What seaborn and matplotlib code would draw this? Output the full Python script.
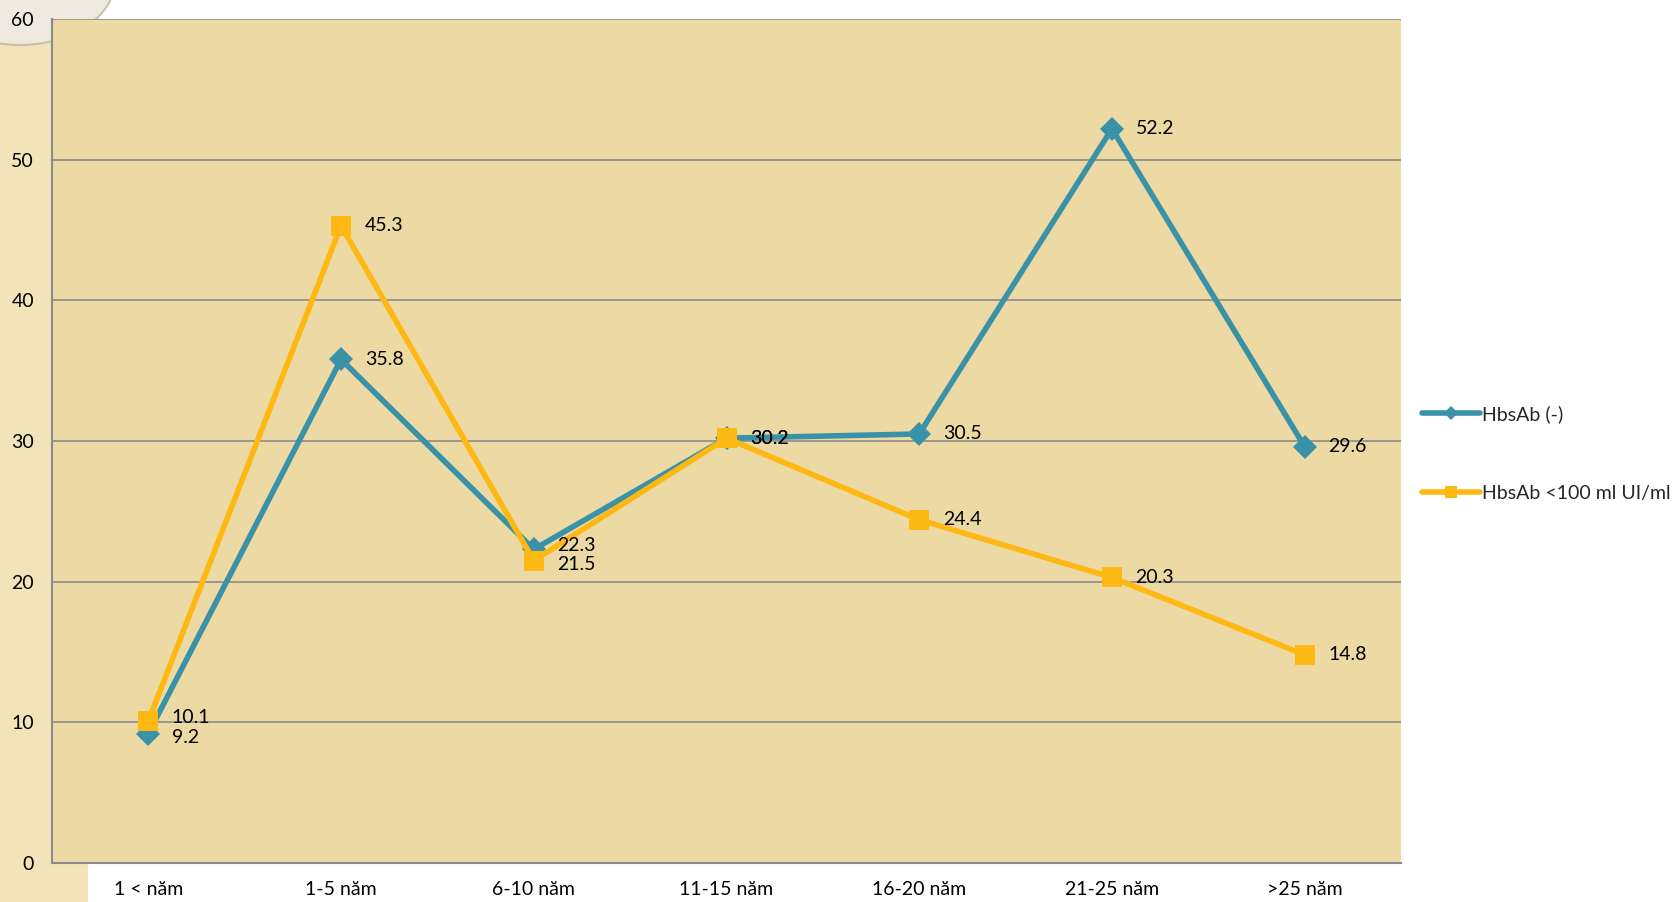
import pandas as pd
import seaborn as sns
import matplotlib.pyplot as plt
from matplotlib.patches import Rectangle, Ellipse

categories = ["1 < năm", "1-5 năm", "6-10 năm", "11-15 năm", "16-20 năm", "21-25 năm", ">25 năm"]
hbsab_neg = [9.2, 35.8, 22.3, 30.2, 30.5, 52.2, 29.6]
hbsab_low = [10.1, 45.3, 21.5, 30.2, 24.4, 20.3, 14.8]
series_names = ["HbsAb (-)", "HbsAb <100 ml UI/ml"]

df = pd.DataFrame({
    "Nhóm": categories * 2,
    "Giá trị": hbsab_neg + hbsab_low,
    "Series": [series_names[0]] * len(categories) + [series_names[1]] * len(categories),
})
df["x"] = list(range(len(categories))) * 2

sns.set_theme(style="white")
plt.rcParams["font.family"] = ["Lato", "DejaVu Sans"]

fig = plt.figure(figsize=(16.75, 9.02), dpi=100)
fig.patch.set_facecolor("white")

# decorative left strip and corner badge (behind the axes)
fig.patches.append(Rectangle((0, 0), 88 / 1675, 1, transform=fig.transFigure,
                             facecolor="#F3E3B8", edgecolor="none", zorder=-2))
fig.patches.append(Ellipse((20 / 1675, 1 + 20 / 902), 190 / 1675, 130 / 902,
                           transform=fig.transFigure, facecolor="#EEEAE0",
                           edgecolor="#C9C1A8", lw=1.5, zorder=-1))

ax = fig.add_axes([52 / 1675, 39 / 902, 1349 / 1675, 844 / 902])
ax.set_zorder(1)
ax.set_facecolor("#EDD9A4")

colors = {series_names[0]: "#3A92A8", series_names[1]: "#FDB813"}
markers = {series_names[0]: "D", series_names[1]: "s"}
sizes = {series_names[0]: 12, series_names[1]: 14}
# small vertical nudges so close label pairs stay readable
nudge = {series_names[0]: [-2.5, 0, 2.5, 0, 0, 0, 0], series_names[1]: [2.5, 0, -2.5, 0, 0, 0, 0]}

for name, vals in [(series_names[0], hbsab_neg), (series_names[1], hbsab_low)]:
    sub = df[df["Series"] == name]
    sns.lineplot(data=sub, x="x", y="Giá trị", ax=ax, color=colors[name],
                 marker=markers[name], markersize=sizes[name], markeredgewidth=0,
                 linewidth=4, sort=False, label=name, zorder=3, legend=False)
    for i, v in enumerate(vals):
        ax.annotate(f"{v:g}", (i, v), xytext=(17, nudge[name][i]), textcoords="offset points",
                    va="center", ha="left", fontsize=14, color="black", zorder=5)

ax.set_xlim(-0.5, len(categories) - 0.5)
ax.set_ylim(0, 60)
ax.set_yticks(range(0, 61, 10))
ax.set_xticks(range(len(categories)))
ax.set_xticklabels(categories)
ax.tick_params(axis="both", labelsize=14, colors="black", length=0)
ax.tick_params(axis="x", pad=13)
ax.tick_params(axis="y", pad=13)
ax.set_xlabel("")
ax.set_ylabel("")
ax.yaxis.grid(True, color="#8C8C8C", linewidth=1.2)
ax.set_axisbelow(True)
for s in ["top", "right"]:
    ax.spines[s].set_visible(False)
for s in ["left", "bottom"]:
    ax.spines[s].set_color("#8C8C8C")
    ax.spines[s].set_linewidth(1.5)

handles = [
    plt.Line2D([], [], color=colors[series_names[0]], marker="D", markersize=7, linewidth=4, markeredgewidth=0),
    plt.Line2D([], [], color=colors[series_names[1]], marker="s", markersize=9, linewidth=4, markeredgewidth=0),
]
fig.legend(handles, series_names, loc="center left", bbox_to_anchor=(1414 / 1675, 0.497),
           frameon=False, fontsize=14, handlelength=3.0, handletextpad=0.1,
           labelspacing=3.2, borderaxespad=0)

plt.savefig("out.png", dpi=100)
